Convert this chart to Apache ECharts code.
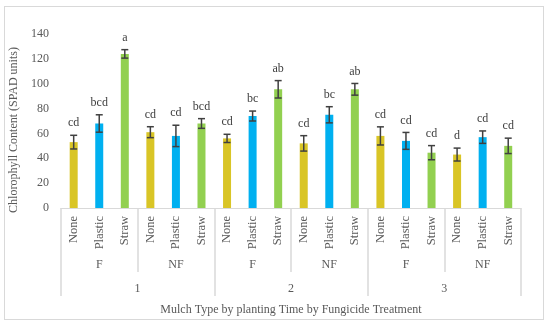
<!DOCTYPE html>
<html>
<head>
<meta charset="utf-8">
<script src="https://cdn.jsdelivr.net/npm/echarts@6/dist/echarts.min.js"></script>
<style>
html,body{margin:0;padding:0;background:#fff;}
#wrap{position:relative;width:550px;height:325px;}
#chart{position:absolute;left:0;top:0;width:550px;height:325px;}
#frame{position:absolute;left:4px;top:6px;width:538px;height:312px;border:1px solid #d9d9d9;pointer-events:none;}
</style>
</head>
<body>
<div id="wrap"><div id="chart"></div><div id="frame"></div></div>
<script>
// Data
const times = ['1', '2', '3'];
const fungicide = ['F', 'NF', 'F', 'NF', 'F', 'NF'];
const mulch = ['None','Plastic','Straw','None','Plastic','Straw','None','Plastic','Straw',
               'None','Plastic','Straw','None','Plastic','Straw','None','Plastic','Straw'];
const values = [53, 68, 124, 61, 58, 68, 56, 74, 95.5, 52, 75, 95.5, 58, 54, 44.5, 43, 57, 50];
const errors = [5.5, 7, 3.4, 4.4, 8.6, 3.9, 3.3, 4, 7, 6.2, 6.5, 4.7, 7.3, 6.8, 5.7, 5.2, 5, 6.2];
const letters = ['cd','bcd','a','cd','cd','bcd','cd','bc','ab','cd','bc','ab','cd','cd','cd','d','cd','cd'];
const yTicks = { min: 0, max: 140, interval: 20 };

const mulchColors = { None: '#D9C526', Plastic: '#00B0F0', Straw: '#92D050' };
const FONT = 'Liberation Serif';
const TXT = '#595959';

const chart = echarts.init(document.getElementById('chart'));
chart.setOption({
  animation: false,
  grid: { left: 60, right: 29, top: 34, bottom: 117 },
  xAxis: [
    {
      type: 'category', data: mulch, gridIndex: 0, position: 'bottom',
      axisLine: { show: true, lineStyle: { color: '#d9d9d9', width: 1 } },
      axisTick: { show: false },
      axisLabel: { rotate: 90, interval: 0, margin: 8, fontFamily: FONT, fontSize: 12.5, color: TXT }
    },
    {
      type: 'category', data: fungicide, gridIndex: 0, position: 'bottom',
      axisLine: { show: false },
      axisTick: { show: true, interval: 0, length: 64, lineStyle: { color: '#d9d9d9', width: 1.5 } },
      axisLabel: { interval: 0, margin: 51, fontFamily: FONT, fontSize: 12, color: TXT }
    },
    {
      type: 'category', data: times, gridIndex: 0, position: 'bottom',
      axisLine: { show: false },
      axisTick: { show: true, interval: 0, length: 88, lineStyle: { color: '#d9d9d9', width: 1.5 } },
      axisLabel: { interval: 0, margin: 75, fontFamily: FONT, fontSize: 12, color: TXT },
      name: 'Mulch Type by planting Time by Fungicide Treatment',
      nameLocation: 'middle', nameGap: 96,
      nameTextStyle: { fontFamily: FONT, fontSize: 12, color: TXT }
    }
  ],
  yAxis: {
    type: 'value', min: yTicks.min, max: yTicks.max, interval: yTicks.interval,
    axisLine: { show: false }, axisTick: { show: false }, splitLine: { show: false },
    axisLabel: { margin: 12, fontFamily: FONT, fontSize: 12, color: TXT },
    name: 'Chlorophyll Content (SPAD units)', nameLocation: 'middle', nameGap: 38,
    nameTextStyle: { fontFamily: FONT, fontSize: 12, color: TXT, padding: [0, 18, 0, 0] }
  },
  series: [
    {
      type: 'bar', xAxisIndex: 0, barWidth: 8,
      data: values.map((v, i) => ({ value: v, itemStyle: { color: mulchColors[mulch[i]] } }))
    },
    {
      type: 'custom', xAxisIndex: 0, z: 5,
      data: values.map((v, i) => [i, v, errors[i]]),
      encode: { x: 0, y: 1 },
      renderItem: function (params, api) {
        const x = api.value(0), v = api.value(1), e = api.value(2);
        const top = api.coord([x, v + e]);
        const bot = api.coord([x, v - e]);
        const cap = 3.5;
        const st = { stroke: '#404040', lineWidth: 1.5 };
        return {
          type: 'group',
          children: [
            { type: 'line', shape: { x1: top[0], y1: top[1], x2: bot[0], y2: bot[1] }, style: st },
            { type: 'line', shape: { x1: top[0] - cap, y1: top[1], x2: top[0] + cap, y2: top[1] }, style: st },
            { type: 'line', shape: { x1: bot[0] - cap, y1: bot[1], x2: bot[0] + cap, y2: bot[1] }, style: st },
            { type: 'text', x: top[0], y: top[1] - 12,
              style: { text: letters[params.dataIndex], fill: '#404040', font: '12px "' + FONT + '"',
                       align: 'center', verticalAlign: 'middle' } }
          ]
        };
      }
    }
  ]
});
</script>
</body>
</html>
